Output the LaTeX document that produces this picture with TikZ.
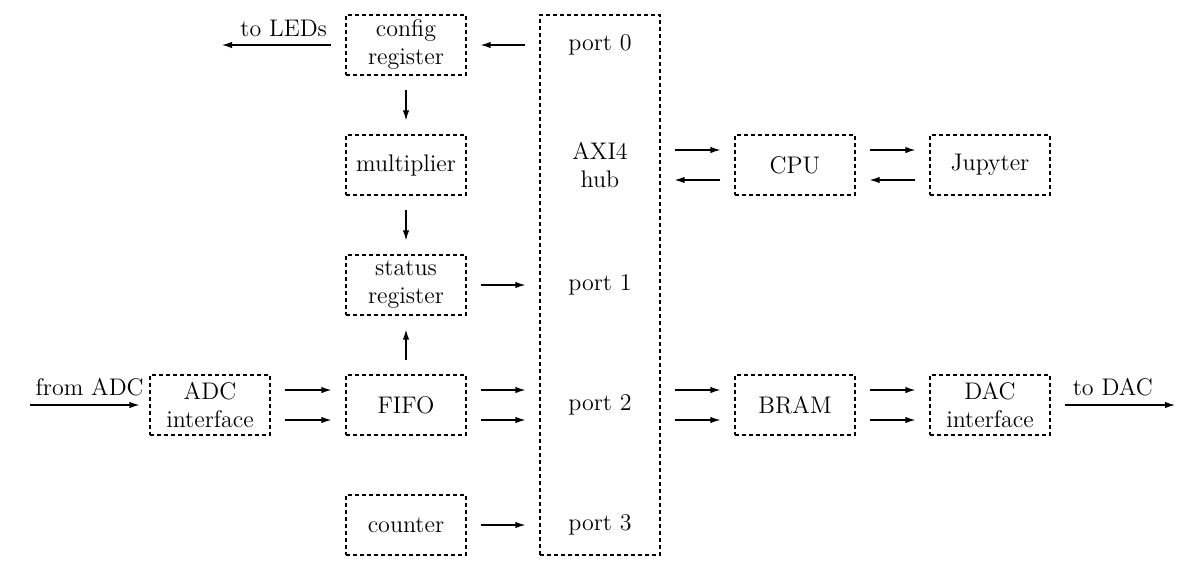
\documentclass[tikz,border=0pt]{standalone}
\usepackage{amsmath, amssymb}
\usepackage{tikz}
\usetikzlibrary{arrows.meta}

\begin{document}
\begin{tikzpicture}[x=0.5pt, y=-0.5pt, >={Latex[length=5pt, width=3.2pt]}, font=\large,
    block/.style={draw, line width=0.6pt, dash pattern=on 2pt off 1.5pt,
      minimum width=60pt, minimum height=30pt, align=center, inner sep=1pt},
    link/.style={->, line width=0.6pt, shorten <=7pt, shorten >=7pt}]
    \useasboundingbox (0, 0) rectangle (1200, 570);
    % blocks
    \node [block] (config) at (406, 45) {config\\register};
    \node [block] (mult) at (406, 165) {multiplier};
    \node [block] (status) at (406, 285) {status\\register};
    \node [block] (fifo) at (406, 405) {FIFO};
    \node [block] (counter) at (406, 525) {counter};
    \node [block] (adc) at (210, 405) {ADC\\interface};
    \node [block, minimum height=270pt] (hub) at (600, 285) {};
    \node [block] (cpu) at (795, 165) {CPU};
    \node [block] (jup) at (990, 165) {Jupyter};
    \node [block] (bram) at (795, 405) {BRAM};
    \node [block] (dac) at (990, 405) {DAC\\interface};
    % hub ports
    \node (p0) at (600, 45) {port 0};
    \node [align=center] (axi) at (600, 165) {AXI4\\hub};
    \node (p1) at (600, 285) {port 1};
    \node (p2) at (600, 405) {port 2};
    \node (p3) at (600, 525) {port 3};
    \coordinate (leds) at (222, 45);
    \coordinate (adcin) at (30, 405);
    \coordinate (dacout) at (1175, 405);
    % connectors
    \draw [link, shorten >=0pt] (config) -- (leds) node [pos=0.5, above, inner sep=4pt] {to LEDs};
    \draw [link] (hub.west |- config) -- (config.east);
    \draw [link] (config) -- (mult);
    \draw [link] (mult) -- (status);
    \draw [link] (fifo) -- (status);
    \draw [link] (status.east) -- (hub.west |- status);
    \draw [link, shorten <=0pt, shorten >=5pt] (adcin) -- (adc) node [pos=0.5, above, inner sep=4pt] {from ADC};
    \draw [link] ([yshift=7.5pt]adc.east) -- ([yshift=7.5pt]fifo.west);
    \draw [link] ([yshift=-7.5pt]adc.east) -- ([yshift=-7.5pt]fifo.west);
    \draw [link] ([yshift=7.5pt]fifo.east) -- ([yshift=7.5pt]hub.west |- fifo);
    \draw [link] ([yshift=-7.5pt]fifo.east) -- ([yshift=-7.5pt]hub.west |- fifo);
    \draw [link] (counter.east) -- (hub.west |- counter);
    \draw [link] ([yshift=7.5pt]hub.east |- cpu) -- ([yshift=7.5pt]cpu.west);
    \draw [link] ([yshift=-7.5pt]cpu.west) -- ([yshift=-7.5pt]hub.east |- cpu);
    \draw [link] ([yshift=7.5pt]cpu.east) -- ([yshift=7.5pt]jup.west);
    \draw [link] ([yshift=-7.5pt]jup.west) -- ([yshift=-7.5pt]cpu.east);
    \draw [link] ([yshift=7.5pt]hub.east |- bram) -- ([yshift=7.5pt]bram.west);
    \draw [link] ([yshift=-7.5pt]hub.east |- bram) -- ([yshift=-7.5pt]bram.west);
    \draw [link] ([yshift=7.5pt]bram.east) -- ([yshift=7.5pt]dac.west);
    \draw [link] ([yshift=-7.5pt]bram.east) -- ([yshift=-7.5pt]dac.west);
    \draw [link, shorten >=0pt] (dac) -- (dacout) node [pos=0.5, above, inner sep=4pt] {to DAC};
  \end{tikzpicture}
\end{document}
